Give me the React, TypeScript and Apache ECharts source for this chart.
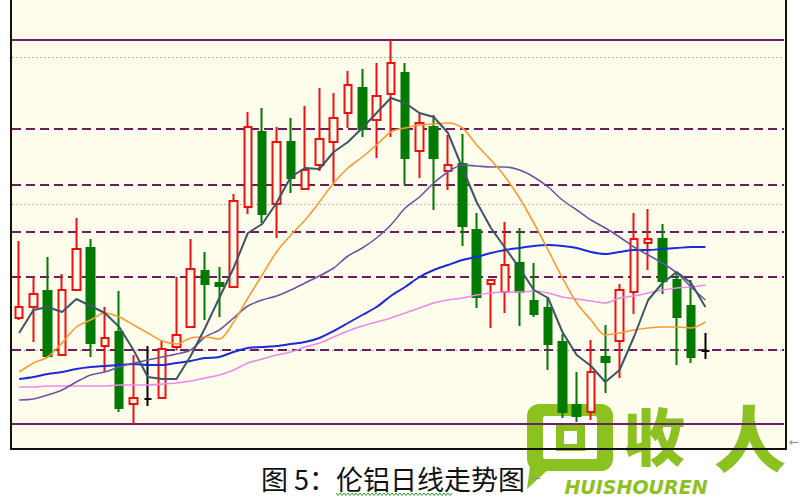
import React, { useEffect, useRef } from "react";
import * as echarts from "echarts";

// Trading days on the category axis (the last few slots stay empty)
const days = [
  "D01", "D02", "D03", "D04", "D05", "D06", "D07", "D08", "D09", "D10",
  "D11", "D12", "D13", "D14", "D15", "D16", "D17", "D18", "D19", "D20",
  "D21", "D22", "D23", "D24", "D25", "D26", "D27", "D28", "D29", "D30",
  "D31", "D32", "D33", "D34", "D35", "D36", "D37", "D38", "D39", "D40",
  "D41", "D42", "D43", "D44", "D45", "D46", "D47", "D48", "D49", "D50",
  "D51", "D52", "D53", "D54",
];

// LME aluminium daily OHLC
const opens = [
  2182, 2193, 2209, 2145, 2210, 2252, 2154, 2168, 2096, 2101,
  2102, 2153, 2173, 2229, 2217, 2213, 2293, 2368, 2296, 2358,
  2311, 2335, 2358, 2387, 2412, 2380, 2406, 2427, 2349, 2373,
  2329, 2336, 2270, 2216, 2208, 2237, 2199, 2192, 2158, 2095,
  2088, 2143, 2159, 2208, 2257, 2261, 2220, 2194, 2149,
];
const closes = [
  2193, 2206, 2144, 2210, 2251, 2157, 2162, 2092, 2102, 2101,
  2151, 2165, 2231, 2216, 2214, 2299, 2373, 2286, 2358, 2322,
  2330, 2361, 2382, 2415, 2371, 2404, 2437, 2342, 2377, 2342,
  2335, 2274, 2203, 2220, 2235, 2208, 2186, 2156, 2088, 2084,
  2128, 2138, 2210, 2261, 2261, 2219, 2183, 2143, 2149,
];
const lows = [
  2180, 2158, 2143, 2144, 2210, 2143, 2128, 2088, 2076, 2094,
  2102, 2150, 2172, 2180, 2183, 2212, 2286, 2277, 2262, 2307,
  2311, 2329, 2315, 2372, 2363, 2342, 2363, 2315, 2322, 2290,
  2310, 2254, 2192, 2172, 2187, 2174, 2183, 2130, 2082, 2078,
  2080, 2107, 2122, 2186, 2230, 2206, 2135, 2137, 2141,
];
const highs = [
  2259, 2223, 2243, 2226, 2282, 2261, 2193, 2209, 2145, 2154,
  2160, 2223, 2261, 2248, 2233, 2306, 2388, 2392, 2373, 2382,
  2394, 2412, 2407, 2429, 2431, 2437, 2460, 2437, 2387, 2385,
  2365, 2366, 2287, 2220, 2278, 2272, 2237, 2203, 2166, 2128,
  2160, 2175, 2216, 2287, 2291, 2276, 2228, 2220, 2167,
];

// Moving averages
const ma5 = [
  2167, 2190, 2193, 2188, 2201, 2194, 2187, 2173, 2150, 2123,
  2121, 2121, 2144, 2172, 2202, 2232, 2267, 2276, 2297, 2323,
  2332, 2331, 2348, 2358, 2372, 2387, 2402, 2397, 2387, 2383,
  2367, 2332, 2298, 2272, 2252, 2232, 2210, 2202, 2168, 2145,
  2134, 2118, 2130, 2163, 2200, 2217, 2228, 2217, 2193,
];
const ma10 = [
  2128, 2137, 2143, 2157, 2173, 2180, 2187, 2183, 2175, 2167,
  2159, 2156, 2162, 2163, 2161, 2178, 2202, 2225, 2248, 2265,
  2280, 2298, 2317, 2332, 2343, 2355, 2368, 2372, 2375, 2376,
  2377, 2372, 2355, 2340, 2323, 2302, 2277, 2250, 2222, 2197,
  2180, 2165, 2167, 2170, 2172, 2173, 2173, 2172, 2178,
];
const ma20 = [
  2100, 2101, 2105, 2110, 2118, 2125, 2128, 2133, 2137, 2140,
  2143, 2146, 2150, 2163, 2170, 2182, 2194, 2200, 2204, 2210,
  2217, 2224, 2232, 2244, 2252, 2262, 2275, 2292, 2303, 2317,
  2328, 2335, 2334, 2333, 2333, 2330, 2323, 2313, 2300, 2290,
  2280, 2272, 2263, 2253, 2245, 2237, 2227, 2213, 2200,
];
const ma40 = [
  2121, 2123, 2126, 2128, 2131, 2133, 2134, 2135, 2136, 2135,
  2135, 2137, 2139, 2142, 2143, 2148, 2152, 2153, 2154, 2156,
  2158, 2162, 2169, 2177, 2185, 2193, 2204, 2213, 2223, 2230,
  2235, 2240, 2243, 2247, 2250, 2252, 2254, 2255, 2254, 2252,
  2248, 2246, 2248, 2250, 2250, 2251, 2252, 2253, 2253,
];
const ma60 = [
  2113, 2113, 2114, 2114, 2114, 2114, 2114, 2115, 2115, 2115,
  2116, 2117, 2119, 2122, 2125, 2130, 2137, 2141, 2145, 2148,
  2153, 2157, 2163, 2169, 2174, 2178, 2182, 2187, 2192, 2197,
  2200, 2202, 2205, 2207, 2208, 2208, 2209, 2207, 2203, 2201,
  2199, 2197, 2202, 2204, 2207, 2210, 2212, 2213, 2215,
];

// Horizontal price levels
const solidLevels = [2460, 2076];
const dashedLevels = [2371, 2315, 2268, 2223, 2150];
const dottedLevels = [2443, 2296, 2150];

const TITLE = "图 5：伦铝日线走势图";
const CREAM = "#fffdec";
const LOGO_GREEN = "#8cc21f";

const candleData = opens.map((o, i) => [o, closes[i], lows[i], highs[i]]);

function maSeries(name: string, data: number[], color: string, width: number, smooth: number) {
  return {
    name,
    type: "line",
    data,
    showSymbol: false,
    smooth,
    silent: true,
    lineStyle: { color, width },
    z: 4,
  };
}

// green spell-check squiggle under part of the caption
const squiggle: number[][] = [];
for (let x = 336; x <= 452; x += 2) {
  squiggle.push([x, (x / 2) % 2 === 0 ? 493 : 495.5]);
}

export default function App() {
  const ref = useRef<HTMLDivElement>(null);

  useEffect(() => {
    if (!ref.current) return;
    const chart = echarts.init(ref.current, null, { renderer: "svg" });

    const markLineData: any[] = [
      ...dottedLevels.map((v) => ({
        yAxis: v,
        lineStyle: { color: "#a8a8a8", width: 1.2, type: [1.5, 2.5] },
      })),
      ...dashedLevels.map((v) => ({
        yAxis: v,
        lineStyle: { color: "#6a1f5c", width: 2, type: [9, 5] },
      })),
      ...solidLevels.map((v) => ({
        yAxis: v,
        lineStyle: { color: "#6e2266", width: 2, type: "solid" },
      })),
    ];

    chart.setOption({
      animation: false,
      backgroundColor: "#ffffff",
      grid: { left: 12, right: 16, top: 0, bottom: 51 },
      xAxis: {
        type: "category",
        data: days,
        boundaryGap: true,
        show: false,
      },
      yAxis: {
        type: "value",
        min: 2051,
        max: 2500,
        show: false,
        splitLine: { show: false },
      },
      graphic: [
        {
          type: "rect",
          z: -10,
          silent: true,
          shape: { x: 11, y: 0, width: 775, height: 449 },
          style: { fill: CREAM },
        },
        {
          type: "line",
          z: 10,
          silent: true,
          shape: { x1: 11, y1: 0, x2: 11, y2: 450 },
          style: { stroke: "#111", lineWidth: 2 },
        },
        {
          type: "line",
          z: 10,
          silent: true,
          shape: { x1: 10, y1: 449, x2: 787, y2: 449 },
          style: { stroke: "#111", lineWidth: 2 },
        },
        {
          type: "line",
          z: 10,
          silent: true,
          shape: { x1: 786, y1: 0, x2: 786, y2: 450 },
          style: { stroke: "#111", lineWidth: 2 },
        },
        {
          type: "text",
          z: 10,
          silent: true,
          style: {
            text: "←",
            x: 789,
            y: 436,
            fill: "#909090",
            font: '12px "DejaVu Sans"',
          },
        },
        {
          type: "text",
          z: 10,
          silent: true,
          style: {
            text: TITLE,
            x: 393,
            y: 478,
            fill: "#111",
            font: '27px "Noto Sans CJK SC"',
            align: "center",
            verticalAlign: "middle",
          },
        },
        {
          type: "text",
          z: 10,
          silent: true,
          style: {
            text: "←",
            x: 531,
            y: 472,
            fill: "#909090",
            font: '12px "DejaVu Sans"',
          },
        },
        {
          type: "polyline",
          z: 10,
          silent: true,
          shape: { points: squiggle },
          style: { stroke: "#2e9a2e", lineWidth: 1, fill: null },
        },
        // site badge in the lower right corner
        {
          type: "group",
          z: 20,
          silent: true,
          children: [
            {
              type: "polygon",
              shape: { points: [[531, 458], [527, 489], [552, 466]] },
              style: { fill: LOGO_GREEN },
            },
            {
              type: "rect",
              shape: { x: 527, y: 404, width: 86, height: 67, r: 12 },
              style: { fill: LOGO_GREEN },
            },
            {
              type: "rect",
              shape: { x: 543, y: 416, width: 54, height: 43, r: 2 },
              style: { fill: "#ffffff" },
            },
            {
              type: "rect",
              shape: { x: 556, y: 424, width: 29, height: 27 },
              style: { fill: LOGO_GREEN },
            },
            {
              type: "rect",
              shape: { x: 564, y: 431, width: 13, height: 13 },
              style: { fill: "#ffffff" },
            },
            {
              type: "text",
              style: {
                text: "收",
                x: 654,
                y: 434,
                fill: LOGO_GREEN,
                stroke: "#ffffff",
                lineWidth: 3,
                font: '900 62px "Noto Sans CJK SC"',
                align: "center",
                verticalAlign: "middle",
              },
            },
            {
              type: "text",
              style: {
                text: "人",
                x: 750,
                y: 434,
                fill: LOGO_GREEN,
                stroke: "#ffffff",
                lineWidth: 2,
                font: '900 72px "Noto Sans CJK SC"',
                align: "center",
                verticalAlign: "middle",
              },
            },
            {
              type: "text",
              style: {
                text: "HUISHOUREN",
                x: 636,
                y: 487,
                fill: LOGO_GREEN,
                font: 'italic 900 19px "DejaVu Sans"',
                align: "center",
                verticalAlign: "middle",
              },
            },
          ],
        },
      ],
      series: [
        {
          name: "K",
          type: "candlestick",
          data: candleData,
          barWidth: 8,
          z: 3,
          silent: true,
          itemStyle: {
            color: CREAM,
            color0: "#007a00",
            borderColor: "#f01010",
            borderColor0: "#007a00",
            borderColorDoji: "#000000",
            borderWidth: 2,
          },
          markLine: {
            symbol: "none",
            silent: true,
            animation: false,
            label: { show: false },
            emphasis: { disabled: true },
            z: 1,
            data: markLineData,
          },
        },
        maSeries("MA60", ma60, "#f088ee", 1.6, 0.3),
        maSeries("MA40", ma40, "#1c2ad8", 2, 0.3),
        maSeries("MA20", ma20, "#6a55a6", 1.6, 0.3),
        maSeries("MA10", ma10, "#ff9a30", 1.6, 0.3),
        maSeries("MA5", ma5, "#3b5666", 2, 0),
      ],
    });

    return () => chart.dispose();
  }, []);

  return (
    <div
      ref={ref}
      style={{ position: "fixed", left: 0, top: 0, width: 800, height: 500, background: "#fff" }}
    />
  );
}
